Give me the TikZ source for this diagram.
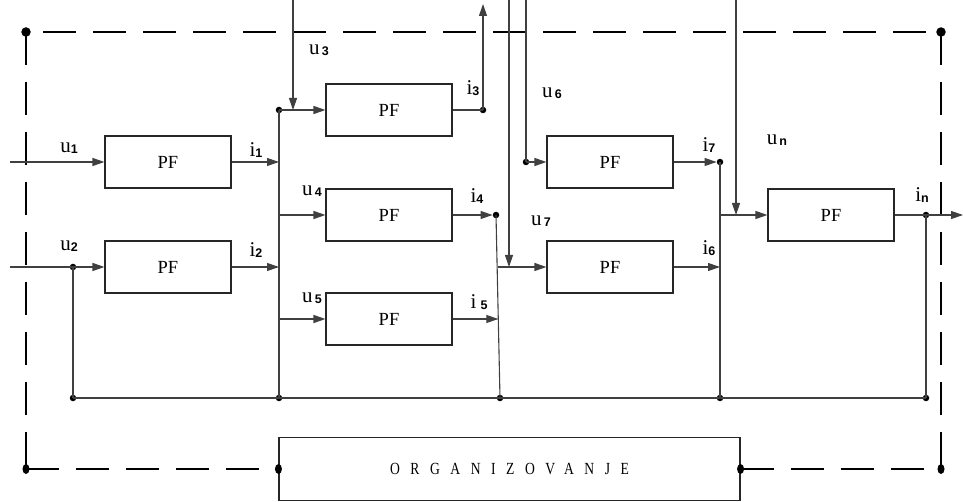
\documentclass[tikz,border=0pt]{standalone}
\usepackage{fontspec}
\setmainfont{Liberation Serif}
\setsansfont{Liberation Sans}
\newfontfamily\orgfont[LetterSpace=62,FakeStretch=0.8]{Liberation Serif}
\usetikzlibrary{arrows.meta,shapes.geometric}
\newcommand\lab[2]{{\fontsize{21}{21}\selectfont #1}\raisebox{-0.3ex}{\sffamily\bfseries\fontsize{12.5}{12.5}\selectfont #2}}
\begin{document}
\begin{tikzpicture}[x=1pt,y=-1pt,
  pf/.style={draw=black!85,line width=1.1pt,minimum width=126pt,minimum height=52pt,inner sep=0pt,font=\fontsize{18.5}{18.5}\selectfont},
  con/.style={draw=black!75,line width=1.1pt},
  arr/.style={con,-{Triangle[length=12pt,width=8pt]}},
  frame/.style={draw=black,line width=2.2pt,dash pattern=on 33pt off 17pt},
  dot/.style={circle,fill=black,inner sep=0pt,minimum size=6.5pt},
  bigdot/.style={ellipse,fill=black,inner sep=0pt,minimum width=7pt,minimum height=10pt},
  cdot/.style={circle,fill=black,inner sep=0pt,minimum size=9.5pt},
  lbl/.style={inner sep=0pt}]
\useasboundingbox (0,0) rectangle (963,502);
% boxes
\node[pf] (b1) at (168,162) {PF};
\node[pf] (b2) at (168,267) {PF};
\node[pf] (b3) at (389,110) {PF};
\node[pf] (b4) at (389,215) {PF};
\node[pf] (b5) at (389,319) {PF};
\node[pf] (b6) at (610,162) {PF};
\node[pf] (b7) at (610,267) {PF};
\node[pf] (b8) at (831,215) {PF};
\node[draw=black!85,line width=1.1pt,minimum width=461pt,minimum height=63pt,inner sep=0pt,font=\orgfont\fontsize{17}{17}\selectfont] (org) at (509.5,469) {ORGANIZOVANJE};
% frame
\node[cdot] (c1) at (26,32) {};
\node[cdot] (c2) at (941,32) {};
\node[bigdot] (c3) at (26,469) {};
\node[bigdot] (c4) at (941,469) {};
\node[bigdot] (o1) at (org.west) {};
\node[bigdot] (o2) at (org.east) {};
\draw[frame,dash phase=33pt] (c1.center) -- (c2.center);
\draw[frame] (c1.center) -- (c3.center);
\draw[frame] (c2.center) -- (c4.center);
\draw[frame] (c3.center) -- (o1.center);
\draw[frame] (o2.center) -- (c4.center);
% junction points
\node[dot] (d2) at (73,267) {};
\node[dot] (j3) at (279,110) {};
\node[dot] (o3) at (483,110) {};
\node[dot] (o4) at (496,215) {};
\node[dot] (e6) at (526,162) {};
\node[dot] (o7) at (720,162) {};
\node[dot] (on) at (926,215) {};
\node[dot] (g1) at (73,398) {};
\node[dot] (g2) at (279,398) {};
\node[dot] (g3) at (500,398) {};
\node[dot] (g4) at (720,398) {};
\node[dot] (g5) at (926,398) {};
\coordinate (in1) at (10,162);
\coordinate (in2) at (10,267);
\coordinate (h1) at (279,162);
\coordinate (h2) at (279,267);
\coordinate (h4) at (279,215);
\coordinate (h5) at (279,319);
\coordinate (t3) at (293,0);
\coordinate (a3) at (293,110);
\coordinate (up3) at (483,4);
\coordinate (s5) at (498.3,319);
\coordinate (s7) at (497.8,267);
\coordinate (t7) at (509,0);
\coordinate (a7) at (509,267);
\coordinate (t6) at (526,0);
\coordinate (h6) at (720,267);
\coordinate (tn) at (736,0);
\coordinate (an) at (736,215);
\coordinate (hn) at (720,215);
\coordinate (outn) at (963,215);
% connectors
\draw[arr] (in1) -- (b1.west);
\draw[arr] (in2) -- (b2.west);
\draw[con] (d2.center) -- (g1.center);
\draw[arr] (b1.east) -- (h1);
\draw[arr] (b2.east) -- (h2);
\draw[con] (j3.center) -- (g2.center);
\draw[arr] (j3.center) -- (b3.west);
\draw[arr] (t3) -- (a3);
\draw[arr] (h4) -- (b4.west);
\draw[arr] (h5) -- (b5.west);
\draw[con] (b3.east) -- (o3.center);
\draw[arr] (o3.center) -- (up3);
\draw[arr] (b4.east) -- (o4.west);
\draw[arr] (b5.east) -- (s5);
\draw[con] (o4.center) -- (g3.center);
\draw[arr] (t7) -- (a7);
\draw[arr] (s7) -- (b7.west);
\draw[con] (t6) -- (e6.center);
\draw[arr] (e6.center) -- (b6.west);
\draw[arr] (b6.east) -- (o7.west);
\draw[arr] (b7.east) -- (h6);
\draw[con] (o7.center) -- (g4.center);
\draw[arr] (tn) -- (an);
\draw[arr] (hn) -- (b8.west);
\draw[con] (b8.east) -- (on.center);
\draw[arr] (on.center) -- (outn);
\draw[con] (on.center) -- (g5.center);
\draw[con] (g1.center) -- (g5.center);
% labels
\node[lbl] (lu1) at (69,148) {\lab{u}{1}};
\node[lbl] (li1) at (256,150) {\lab{i}{1}};
\node[lbl] (lu2) at (69,246) {\lab{u}{2}};
\node[lbl] (li2) at (256,250) {\lab{i}{2}};
\node[lbl] (lu3) at (319,50) {\lab{u}{\,3}};
\node[lbl] (li3) at (473,88) {\lab{i}{3}};
\node[lbl] (lu4) at (312,191) {\lab{u}{\,4}};
\node[lbl] (li4) at (477,196) {\lab{i}{4}};
\node[lbl] (lu5) at (312,298) {\lab{u}{\,5}};
\node[lbl] (li5) at (479,302) {\lab{i}{\,\,5}};
\node[lbl] (lu6) at (552,93) {\lab{u}{\,6}};
\node[lbl] (lu7) at (541,221) {\lab{u}{\,7}};
\node[lbl] (li7) at (709,145) {\lab{i}{7}};
\node[lbl] (li6) at (709,248) {\lab{i}{6}};
\node[lbl] (lun) at (777,140) {\lab{u}{\,n}};
\node[lbl] (lin) at (922,195) {\lab{i}{n}};
\end{tikzpicture}
\end{document}
